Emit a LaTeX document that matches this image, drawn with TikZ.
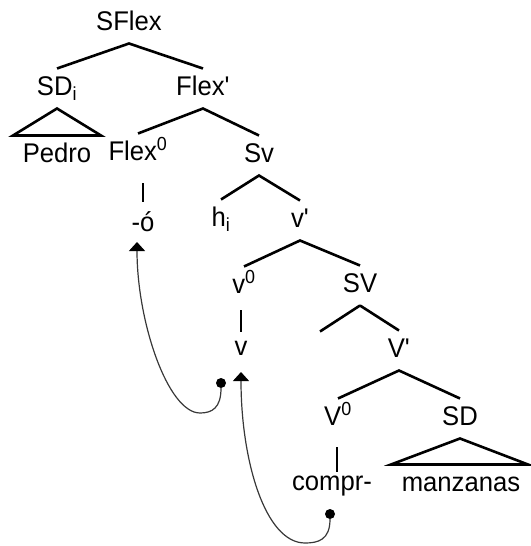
\documentclass[tikz,border=0pt]{standalone}
\usepackage{fontspec}
\setmainfont{Liberation Sans}[FakeStretch=0.95]
\usetikzlibrary{arrows.meta}
\definecolor{movgray}{HTML}{383838}

\begin{document}
\begin{tikzpicture}[x=1pt,y=-1pt,
  cat/.style={font=\fontsize{27}{31}\selectfont,anchor=base,inner sep=0pt,text height=14pt,text depth=1pt,outer xsep=0pt,outer ysep=12.5pt},
  br/.style={line width=2.6pt},
  un/.style={line width=2.8pt},
  trc/.style={circle,fill=black,inner sep=0pt,minimum size=10pt},
  mov/.style={-{Triangle[width=16pt,length=9pt,color=black]},line width=1.2pt,movgray}
]
\useasboundingbox (0,0) rectangle (530,546);

\node[cat] (sflex) at (129,30) {SFlex};
\node[cat] (sdi) at (57,95) {SD\textsubscript{i}};
\node[cat] (flexbar) at (203,95) {Flex\textquotesingle};
\node[cat] (pedro) at (57,162) {Pedro};
\node[cat] (flexzero) at (138,160) {Flex\textsuperscript{0}};
\node[cat] (sv) at (259,162) {Sv};
\node[cat] (o) at (143,231) {-ó};
\node[cat] (hi) at (221,226) {h\textsubscript{i}};
\node[cat] (vbar) at (300,227) {v\textquotesingle};
\node[cat] (vzero) at (244,293) {v\textsuperscript{0}};
\node[cat] (svbig) at (360,292) {SV};
\node[cat] (v) at (241,355) {v};
\node[cat] (vbarbig) at (399,357) {V\textquotesingle};
\node[cat] (vzerobig) at (338,425) {V\textsuperscript{0}};
\node[cat] (sd) at (460,425) {SD};
\node[cat] (compr) at (332,490) {compr-};
\node[cat] (manz) at (461,491) {manzanas};

\draw[br] (sdi.north) -- (sflex.south) -- (flexbar.north);
\draw[br] (flexzero.north) -- (flexbar.south) -- (sv.north);
\draw[br] (hi.north) -- (sv.south) -- (vbar.north);
\draw[br] (vzero.north) -- (vbar.south) -- (svbig.north);
\draw[br] (svbig.south) -- ++(-40,26);
\draw[br] (svbig.south) -- (vbarbig.north);
\draw[br] (vzerobig.north) -- (vbarbig.south) -- (sd.north);

\draw[br] (sdi.south) -- ([xshift=-44pt]pedro.north) -- ([xshift=44pt]pedro.north) -- cycle;
\draw[br] (sd.south) -- ([xshift=-70pt]manz.north) -- ([xshift=67pt]manz.north) -- cycle;

\draw[un] ([yshift=-9.5pt]o.north |- flexzero.south) -- ([yshift=2.5pt]o.north);
\draw[un] ([yshift=-3.5pt]v.north |- vzero.south) -- ([yshift=-3.5pt]v.north);
\draw[un] ([xshift=-1pt,yshift=-8.5pt]vzerobig.south) -- ([xshift=-1pt,yshift=-8.5pt]vzerobig.south |- compr.north);

\node[trc] (d1) at (221,383) {};
\node[trc] (d2) at (330,514) {};
\coordinate (t1) at (137,242);
\coordinate (t2) at (241,372);

\draw[mov] (d1) .. controls (221,408) and (212,413) .. (200,413)
  .. controls (168,413) and (137,322) .. (t1);
\draw[mov] (d2) .. controls (330,540) and (318,543) .. (305,543)
  .. controls (265,543) and (241,460) .. (t2);
\end{tikzpicture}
\end{document}
